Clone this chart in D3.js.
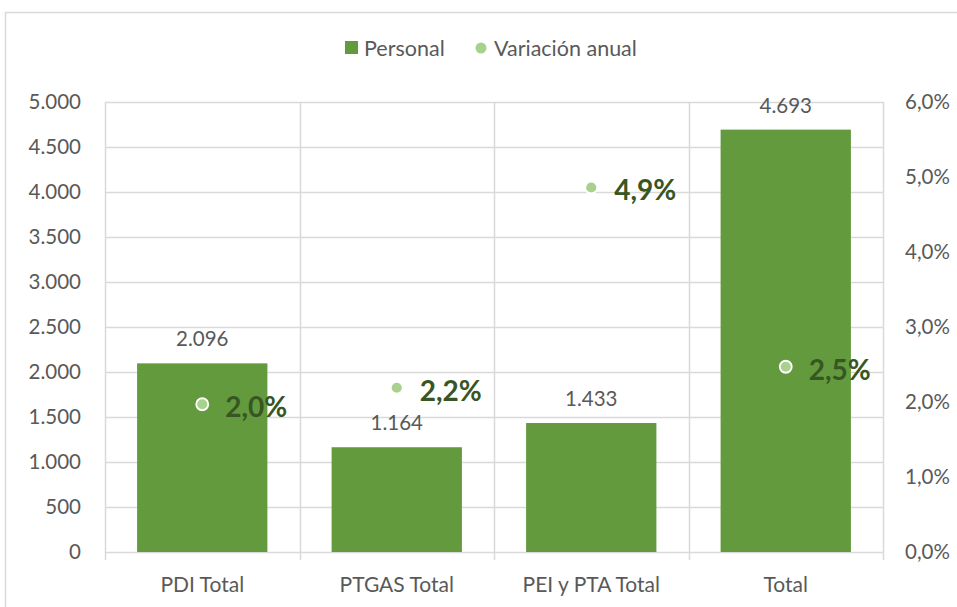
<!DOCTYPE html>
<html><head><meta charset="utf-8">
<script src="https://cdn.jsdelivr.net/npm/d3@7"></script>
<style>body{margin:0;background:#fff;}svg{display:block;font-family:Lato,"Open Sans",sans-serif;}</style>
</head><body>
<svg id="c" width="957" height="607"></svg>
<script>
const categories = ["PDI Total","PTGAS Total","PEI y PTA Total","Total"];
const personal = [2096,1164,1433,4693];
const variacion = [0.0197,0.0219,0.0486,0.0247];
const leftTicks = [0,500,1000,1500,2000,2500,3000,3500,4000,4500,5000];
const rightTicks = [0,0.01,0.02,0.03,0.04,0.05,0.06];
const legendLabels = ["Personal","Variación anual"];

(function(){
const svg = d3.select("#c");
const pL=105,pR=883,pT=102,pB=552;
const grid="#D9D9D9", txt="#595959", barColor="#639A3E", dotColor="#A9D18E", lblColor="#375623";
const fs=20.5;

svg.append("rect").attr("x",5.5).attr("y",12.5).attr("width",970).attr("height",620)
  .attr("fill","#fff").attr("stroke",grid).attr("stroke-width",1.5);

const x = d3.scaleBand().domain(categories).range([pL,pR]).paddingInner(0).paddingOuter(0);
const y = d3.scaleLinear().domain([0,5000]).range([pB,pT]);
const y2 = d3.scaleLinear().domain([0,0.06]).range([pB,pT]);
const loc = d3.formatLocale({decimal:",",thousands:".",grouping:[3],currency:["","€"]});
const fmtInt = loc.format(",d");
const fmtPct = loc.format(".1%");

svg.append("g").selectAll("line").data(leftTicks).join("line")
  .attr("x1",pL).attr("x2",pR).attr("y1",d=>Math.round(y(d))+0.5).attr("y2",d=>Math.round(y(d))+0.5)
  .attr("stroke",grid).attr("stroke-width",1.5);
const bounds = categories.map(c=>x(c)).concat([pR]);
svg.append("g").selectAll("line").data(bounds).join("line")
  .attr("x1",d=>Math.round(d)+0.5).attr("x2",d=>Math.round(d)+0.5).attr("y1",pT).attr("y2",pB+8)
  .attr("stroke",grid).attr("stroke-width",1.5);

svg.append("g").selectAll("text").data(leftTicks).join("text")
  .attr("x",81).attr("y",d=>y(d)).attr("dy","0.35em").attr("text-anchor","end")
  .attr("fill",txt).attr("font-size",fs).text(d=>fmtInt(d));
svg.append("g").selectAll("text").data(rightTicks).join("text")
  .attr("x",905).attr("y",d=>y2(d)).attr("dy","0.35em").attr("text-anchor","start")
  .attr("fill",txt).attr("font-size",fs).text(d=>fmtPct(d));
svg.append("g").selectAll("text").data(categories).join("text")
  .attr("x",d=>x(d)+x.bandwidth()/2).attr("y",585).attr("dy","0.35em").attr("text-anchor","middle")
  .attr("fill",txt).attr("font-size",21).text(d=>d);

const bw = x.bandwidth()*0.67;
svg.append("g").selectAll("rect").data(categories).join("rect")
  .attr("x",(d)=>x(d)+x.bandwidth()/2-bw/2).attr("width",bw)
  .attr("y",(d,i)=>y(personal[i])).attr("height",(d,i)=>pB-y(personal[i]))
  .attr("fill",barColor);
svg.append("g").selectAll("text").data(categories).join("text")
  .attr("x",d=>x(d)+x.bandwidth()/2).attr("y",(d,i)=>y(personal[i])-17)
  .attr("text-anchor","middle").attr("fill",txt).attr("font-size",fs)
  .text((d,i)=>fmtInt(personal[i]));

svg.append("g").selectAll("circle").data(categories).join("circle")
  .attr("cx",d=>x(d)+x.bandwidth()/2).attr("cy",(d,i)=>y2(variacion[i])).attr("r",6)
  .attr("fill",dotColor).attr("stroke","#fff").attr("stroke-width",1.8);
svg.append("g").selectAll("text").data(categories).join("text")
  .attr("x",d=>x(d)+x.bandwidth()/2+23).attr("y",(d,i)=>y2(variacion[i])+3).attr("dy","0.35em")
  .attr("text-anchor","start").attr("fill",lblColor).attr("font-size",28).attr("font-weight","bold")
  .text((d,i)=>fmtPct(variacion[i]));

const lg = svg.append("g");
lg.append("rect").attr("x",345).attr("y",41).attr("width",13).attr("height",13).attr("fill",barColor);
lg.append("text").attr("x",364).attr("y",48).attr("dy","0.35em").attr("fill",txt).attr("font-size",21.5).text(legendLabels[0]);
lg.append("circle").attr("cx",481).attr("cy",48).attr("r",5.5).attr("fill",dotColor);
lg.append("text").attr("x",494).attr("y",48).attr("dy","0.35em").attr("fill",txt).attr("font-size",21.5).text(legendLabels[1]);
})();
</script>
</body></html>
